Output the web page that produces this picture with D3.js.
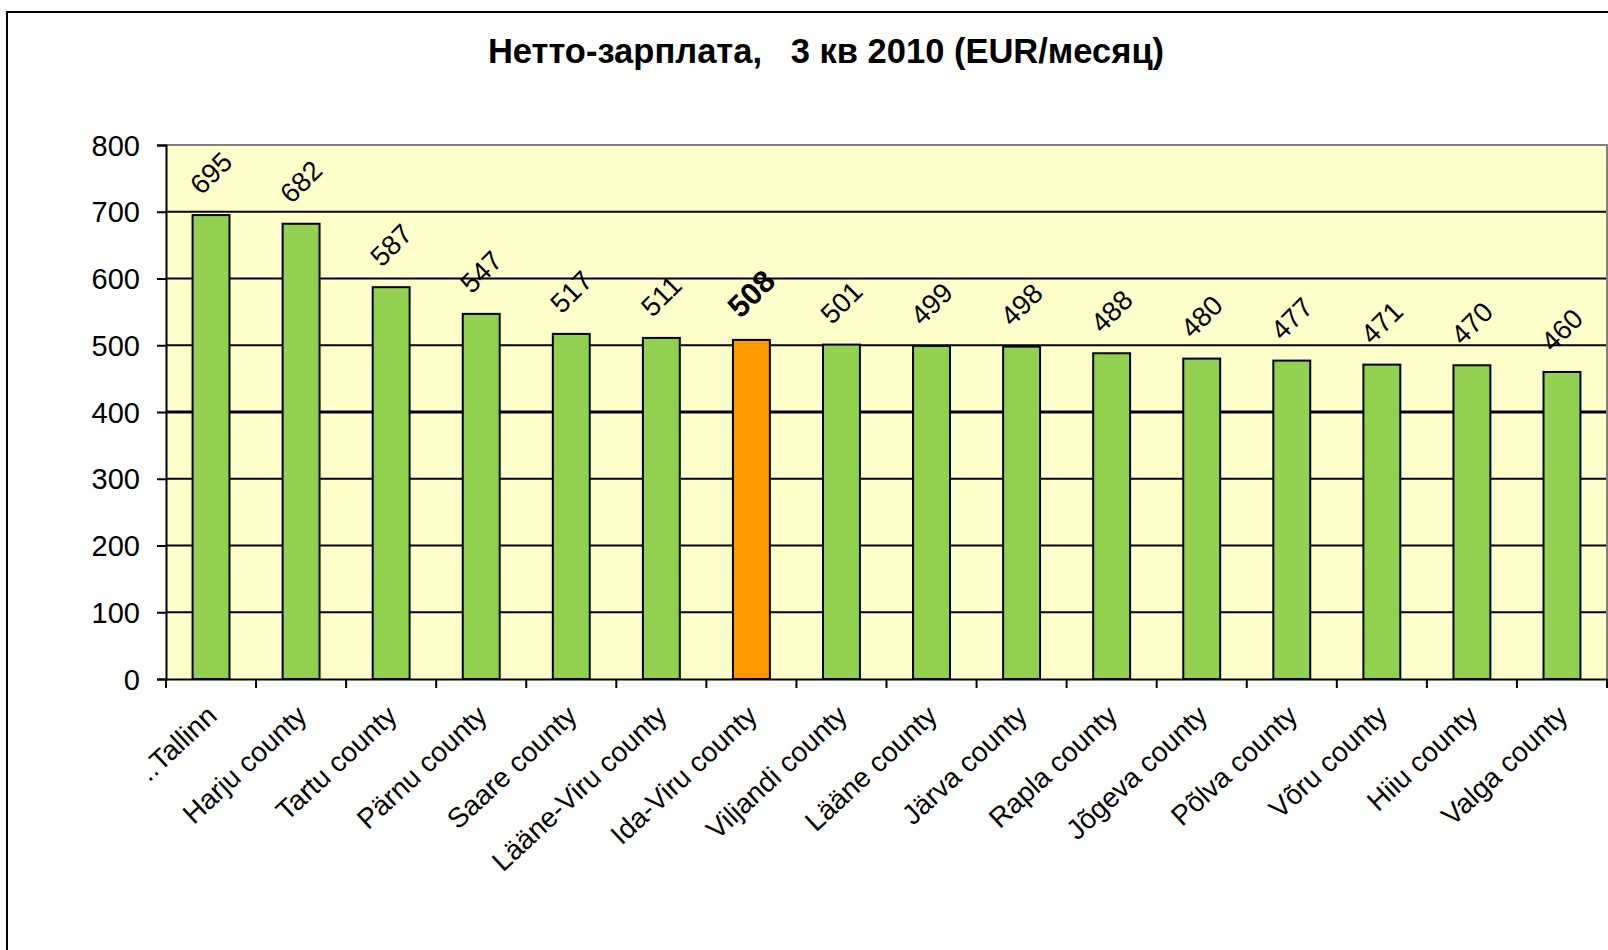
<!DOCTYPE html>
<html>
<head>
<meta charset="utf-8">
<script src="https://cdn.jsdelivr.net/npm/d3@7"></script>
<style>
  html, body { margin: 0; padding: 0; background: #fff; }
  svg { display: block; font-family: "Liberation Sans", Arial, sans-serif; }
</style>
</head>
<body>
<svg id="chart" width="1608" height="950"></svg>
<script>
const title = "Нетто-зарплата,   3 кв 2010 (EUR/месяц)";
const categories = ["..Tallinn", "Harju county", "Tartu county", "Pärnu county", "Saare county",
  "Lääne-Viru county", "Ida-Viru county", "Viljandi county", "Lääne county", "Järva county",
  "Rapla county", "Jõgeva county", "Põlva county", "Võru county", "Hiiu county", "Valga county"];
const values = [695, 682, 587, 547, 517, 511, 508, 501, 499, 498, 488, 480, 477, 471, 470, 460];
const highlighted = ["Ida-Viru county"];
const yTicks = [0, 100, 200, 300, 400, 500, 600, 700, 800];

(function () {
const svg = d3.select("#chart");
const pL = 166, pR = 1607, pT = 145, pB = 679;

const x = d3.scaleBand().domain(categories).range([pL, pR]).paddingInner(0.59).paddingOuter(0.295);
const y = d3.scaleLinear().domain([0, 800]).range([pB, pT]);

// outer chart border
svg.append("rect").attr("x", 7).attr("y", 12).attr("width", 1700).attr("height", 1100)
  .attr("fill", "#fff").attr("stroke", "#000").attr("stroke-width", 2);

// title
svg.append("text").attr("x", 826).attr("y", 51)
  .attr("text-anchor", "middle").attr("dominant-baseline", "central")
  .style("white-space", "pre")
  .attr("font-size", 34.5).attr("font-weight", "bold").attr("fill", "#000")
  .text(title);

// plot area
svg.append("rect").attr("x", pL).attr("y", pT).attr("width", pR - pL).attr("height", pB - pT)
  .attr("fill", "#FFFFCC");

// gridlines
svg.append("g").selectAll("line").data(yTicks.filter(t => t > 0 && t < 800)).join("line")
  .attr("x1", pL).attr("x2", pR)
  .attr("y1", d => y(d)).attr("y2", d => y(d))
  .attr("stroke", "#000").attr("stroke-width", d => d === 400 ? 3 : 2);

// plot top and right border (gray)
svg.append("path")
  .attr("d", `M${pL},${y(800)}H${pR}V${pB}`)
  .attr("fill", "none").attr("stroke", "#808080").attr("stroke-width", 2);

// bars
svg.append("g").selectAll("rect").data(categories).join("rect")
  .attr("x", d => x(d)).attr("width", x.bandwidth())
  .attr("y", (d, i) => y(values[i])).attr("height", (d, i) => y(0) - y(values[i]))
  .attr("fill", d => highlighted.includes(d) ? "#FF9900" : "#92D050")
  .attr("stroke", "#000").attr("stroke-width", 2);

// y axis
const yAxis = svg.append("g").attr("transform", `translate(${pL},0)`)
  .call(d3.axisLeft(y).tickValues(yTicks).tickSize(9).tickPadding(17));
yAxis.select(".domain").attr("stroke", "#000").attr("stroke-width", 2);
yAxis.selectAll(".tick line").attr("stroke", "#000").attr("stroke-width", 2);
yAxis.selectAll(".tick text").attr("font-size", 29).attr("fill", "#000")
  .attr("font-family", "'Liberation Sans', Arial, sans-serif").attr("dy", "0.35em");

// x axis line
const xAxis = svg.append("g").attr("transform", `translate(0,${pB})`)
  .call(d3.axisBottom(x).tickSize(0).tickFormat(""));
xAxis.select(".domain").attr("stroke", "#000").attr("stroke-width", 2);

// x tick marks at band boundaries
const gap = (x.step() - x.bandwidth()) / 2;
const bounds = categories.map(d => x(d) - gap).concat([x(categories[categories.length - 1]) + x.bandwidth() + gap]);
svg.append("g").selectAll("line").data(bounds).join("line")
  .attr("x1", d => d).attr("x2", d => d)
  .attr("y1", pB).attr("y2", pB + 9)
  .attr("stroke", "#000").attr("stroke-width", 2);

// x labels
svg.append("g").selectAll("text").data(categories).join("text")
  .attr("transform", d => `translate(${x(d) + x.bandwidth() / 2 + 7.5},718) rotate(-43)`)
  .attr("text-anchor", "end")
  .attr("font-size", 28).attr("fill", "#000")
  .text(d => d);

// value labels
svg.append("g").selectAll("text").data(categories).join("text")
  .attr("transform", (d, i) => {
    const hi = highlighted.includes(d);
    return `translate(${x(d) + x.bandwidth() / 2},${y(values[i]) - (hi ? 46 : 42)}) rotate(-45)`;
  })
  .attr("text-anchor", "middle").attr("dominant-baseline", "central")
  .attr("font-size", d => highlighted.includes(d) ? 31 : 27.5)
  .attr("font-weight", d => highlighted.includes(d) ? "bold" : "normal")
  .attr("fill", "#000")
  .text((d, i) => values[i]);
})();
</script>
</body>
</html>
